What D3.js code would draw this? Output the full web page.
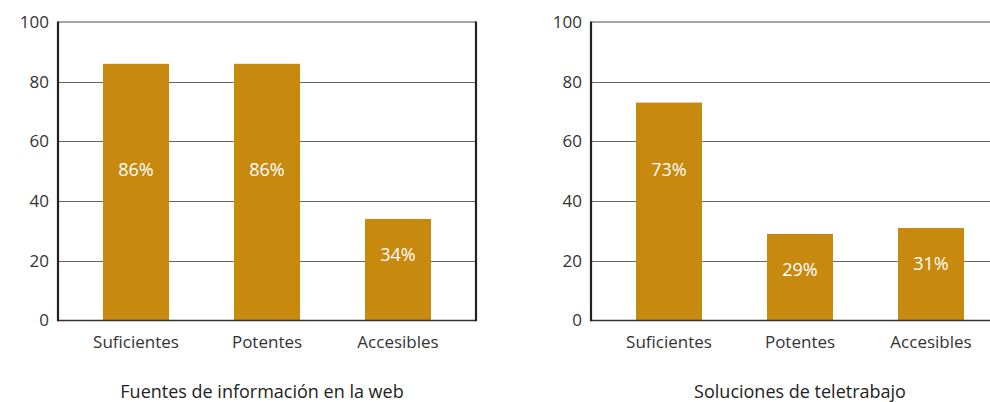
<!DOCTYPE html>
<html>
<head>
<meta charset="utf-8">
<script src="https://cdn.jsdelivr.net/npm/d3@7"></script>
<style>
  html, body { margin: 0; padding: 0; background: #fff; }
  svg { display: block; font-family: "Open Sans", "Noto Sans", sans-serif; }
</style>
</head>
<body>
<svg id="chart" width="990" height="402"></svg>
<script>
const categories = ["Suficientes", "Potentes", "Accesibles"];
const panelTitles = ["Fuentes de información en la web", "Soluciones de teletrabajo"];
const webValues = [86, 86, 34];
const teleValues = [73, 29, 31];
const yTicks = [0, 20, 40, 60, 80, 100];

const panels = [
  { title: panelTitles[0], values: webValues, left: 58 },
  { title: panelTitles[1], values: teleValues, left: 591 }
];

const svg = d3.select("#chart");
const W = 418, plotTop = 22, plotBottom = 320.5;
const barColor = "#C8890F";

panels.forEach(p => {
  const g = svg.append("g").attr("transform", `translate(${p.left},0)`);
  const y = d3.scaleLinear().domain([0, 100]).range([plotBottom, plotTop]);
  const x = d3.scaleBand().domain(categories).range([12.5, W - 12.5]).paddingInner(0.496).paddingOuter(0.248);

  // gridlines
  g.selectAll(".grid").data(yTicks.filter(t => t > 0 && t < 100)).enter().append("line")
    .attr("x1", 0).attr("x2", W)
    .attr("y1", d => Math.round(y(d)) + 0.5).attr("y2", d => Math.round(y(d)) + 0.5)
    .attr("stroke", "#666").attr("stroke-width", 1);
  // top line
  g.append("line").attr("x1", 0).attr("x2", W).attr("y1", y(100)).attr("y2", y(100))
    .attr("stroke", "#888").attr("stroke-width", 1.5);

  // bars
  g.selectAll(".bar").data(p.values).enter().append("rect")
    .attr("x", (d, i) => x(categories[i]))
    .attr("width", x.bandwidth())
    .attr("y", d => y(d))
    .attr("height", d => y(0) - y(d))
    .attr("fill", barColor);

  // value labels
  g.selectAll(".lbl").data(p.values).enter().append("text")
    .attr("x", (d, i) => x(categories[i]) + x.bandwidth() / 2)
    .attr("y", d => y(Math.min(50.5, d - 12)))
    .attr("dy", "0.35em")
    .attr("text-anchor", "middle")
    .attr("fill", "#fff")
    .attr("font-size", 18)
    .text(d => d + "%");

  // axes lines
  g.append("line").attr("x1", 0).attr("x2", W).attr("y1", plotBottom).attr("y2", plotBottom)
    .attr("stroke", "#333").attr("stroke-width", 1.5);
  g.append("line").attr("x1", 0).attr("x2", 0).attr("y1", plotTop - 0.5).attr("y2", plotBottom + 0.8)
    .attr("stroke", "#222").attr("stroke-width", 2.2);
  g.append("line").attr("x1", W).attr("x2", W).attr("y1", plotTop - 0.5).attr("y2", plotBottom + 0.8)
    .attr("stroke", "#222").attr("stroke-width", 2.2);

  // y tick labels
  const yAxis = d3.axisLeft(y).tickValues(yTicks).tickSize(0).tickPadding(9);
  const ya = g.append("g").call(yAxis);
  ya.select(".domain").remove();
  ya.selectAll("text").attr("font-size", 17).attr("fill", "#333")
    .attr("font-family", "'Open Sans', sans-serif");

  // x tick labels
  const xAxis = d3.axisBottom(x).tickSize(0).tickPadding(15);
  const xa = g.append("g").attr("transform", `translate(0,${plotBottom})`).call(xAxis);
  xa.select(".domain").remove();
  xa.selectAll("text").attr("font-size", 17).attr("fill", "#333")
    .attr("font-family", "'Open Sans', sans-serif");

  // panel title
  g.append("text")
    .attr("x", x(categories[1]) + x.bandwidth() / 2 - (p.left < 100 ? 5 : 0))
    .attr("y", 398)
    .attr("text-anchor", "middle")
    .attr("font-size", 18)
    .attr("fill", "#222")
    .text(p.title);
});
</script>
</body>
</html>
